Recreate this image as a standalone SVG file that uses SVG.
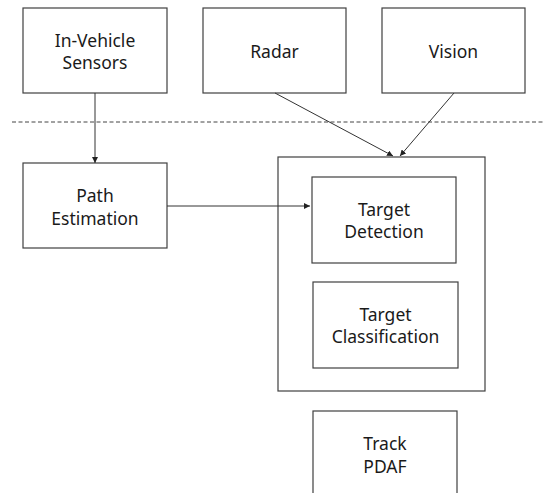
<svg xmlns="http://www.w3.org/2000/svg" width="544" height="493" viewBox="0 0 544 493">
  <style>
    .box { fill: #ffffff; stroke: #404040; stroke-width: 1.2; }
    .lbl { font-family: "Noto Sans", "Liberation Sans", sans-serif; font-size: 17.5px; fill: #1a1a1a; text-anchor: middle; }
    .wire { fill: none; stroke: #333333; stroke-width: 1; }
    .sep { fill: none; stroke: #444444; stroke-width: 1; stroke-dasharray: 4 2.5; }
  </style>
  <defs>
    <marker id="arrow" viewBox="0 0 10 10" refX="10" refY="5" markerWidth="6" markerHeight="6" orient="auto" markerUnits="userSpaceOnUse">
      <path d="M0,0 L10,5 L0,10 z" fill="#222222"/>
    </marker>
  </defs>
  <rect width="544" height="493" fill="#ffffff"/>

  <!-- boundary between sensing layer and processing layer -->
  <line class="sep" x1="12" y1="122" x2="544" y2="122"/>

  <g id="in-vehicle-sensors">
    <rect class="box" x="23" y="8" width="144" height="85"/>
    <text class="lbl" x="95" y="47">In-Vehicle</text>
    <text class="lbl" x="95" y="69">Sensors</text>
  </g>

  <g id="radar">
    <rect class="box" x="203" y="8" width="143" height="85"/>
    <text class="lbl" x="274.5" y="58">Radar</text>
  </g>

  <g id="vision">
    <rect class="box" x="382" y="8" width="143" height="85"/>
    <text class="lbl" x="453.5" y="58">Vision</text>
  </g>

  <g id="path-estimation">
    <rect class="box" x="23" y="163" width="144" height="85"/>
    <text class="lbl" x="95" y="202">Path</text>
    <text class="lbl" x="95" y="225">Estimation</text>
  </g>

  <g id="target-processing">
    <rect class="box" x="278" y="157" width="207" height="234"/>
  </g>

  <g id="target-detection">
    <rect class="box" x="312" y="177" width="144" height="86"/>
    <text class="lbl" x="384" y="216">Target</text>
    <text class="lbl" x="384" y="238">Detection</text>
  </g>

  <g id="target-classification">
    <rect class="box" x="313" y="282" width="145" height="86"/>
    <text class="lbl" x="385.5" y="321">Target</text>
    <text class="lbl" x="385.5" y="343">Classification</text>
  </g>

  <g id="track-pdaf">
    <rect class="box" x="313" y="411" width="144" height="90"/>
    <text class="lbl" x="385" y="450">Track</text>
    <text class="lbl" x="385" y="473">PDAF</text>
  </g>

  <g id="connectors">
    <line class="wire" x1="95" y1="93" x2="95" y2="163" marker-end="url(#arrow)"/>
    <line class="wire" x1="167" y1="206" x2="310" y2="206" marker-end="url(#arrow)"/>
    <line class="wire" x1="275" y1="93" x2="393" y2="156" marker-end="url(#arrow)"/>
    <line class="wire" x1="454" y1="93" x2="400" y2="156" marker-end="url(#arrow)"/>
  </g>
</svg>
